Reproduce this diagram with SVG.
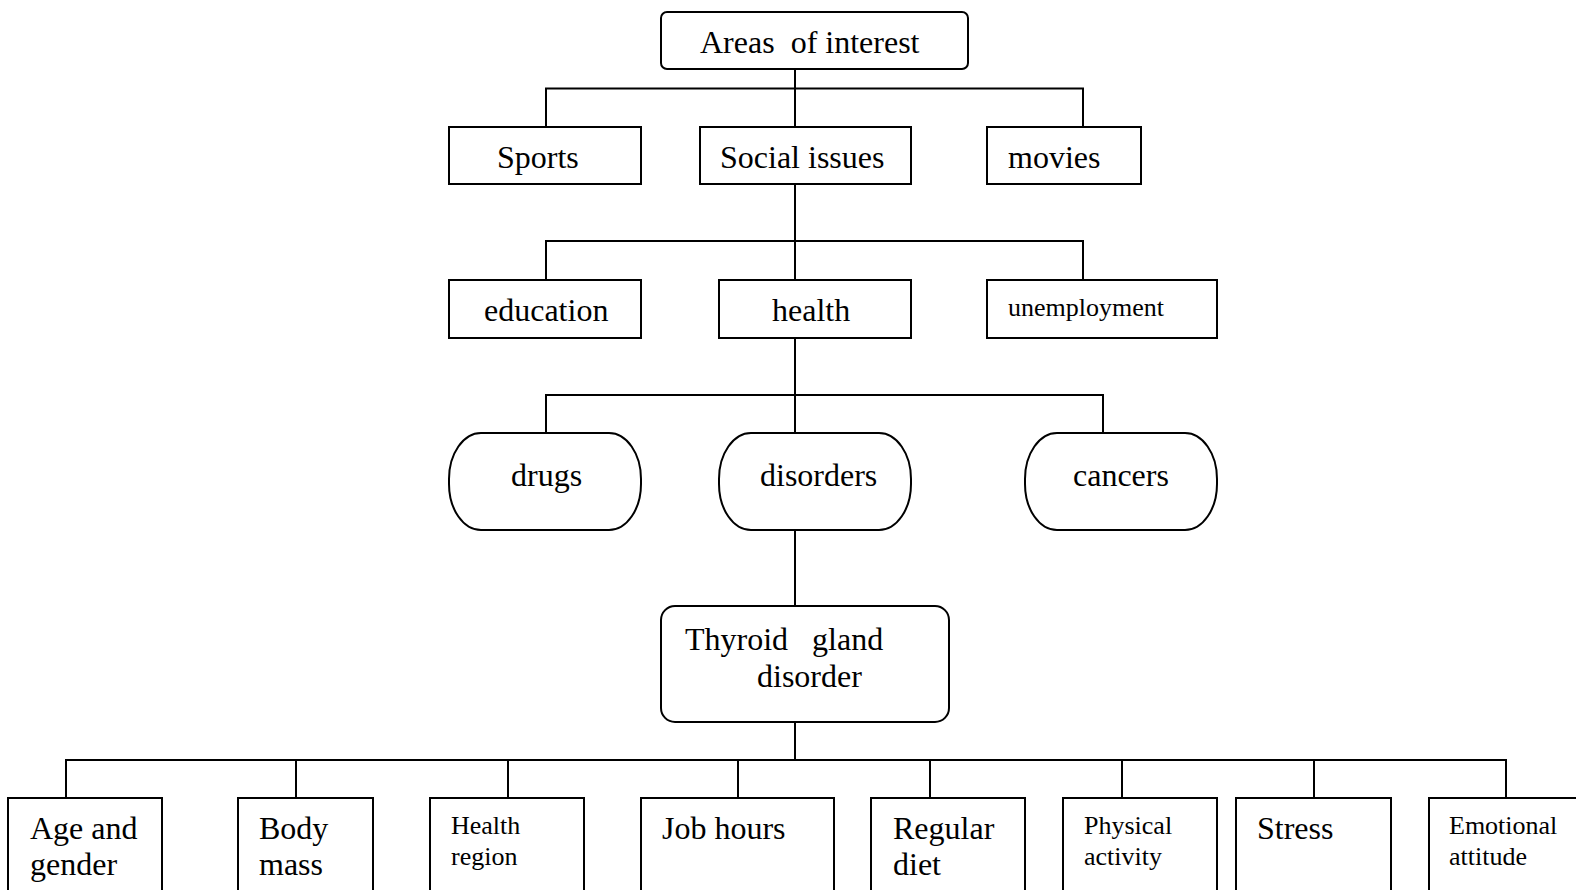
<svg xmlns="http://www.w3.org/2000/svg" width="1576" height="890" viewBox="0 0 1576 890">
<style>
.b{fill:#fff;stroke:#000;stroke-width:2}
.t{font-family:"Liberation Serif","Times New Roman",serif;font-size:32px;fill:#000}
.s{font-family:"Liberation Serif","Times New Roman",serif;font-size:26px;fill:#000}
.c{fill:none;stroke:#000;stroke-width:2}
</style>
<rect width="1576" height="890" fill="#fff"/>
<g id="connectors">
<path class="c" d="M795 69V88.5M546 127V88.5H1083V127M795 88.5V127"/>
<path class="c" d="M795 184V241M546 280V241H1083V280M795 241V280"/>
<path class="c" d="M795 338V395M546 433V395H1103V433M795 395V433"/>
<path class="c" d="M795 530V606"/>
<path class="c" d="M795 722V760M66 798V760H1506V798M296 760V798M508 760V798M738 760V798M930 760V798M1122 760V798M1314 760V798"/>
</g>
<g id="areas"><rect class="b" x="661" y="12" width="307" height="57" rx="6"/><text class="t" x="700" y="53" xml:space="preserve">Areas  of interest</text></g>
<g id="sports"><rect class="b" x="449" y="127" width="192" height="57"/><text class="t" x="497" y="168">Sports</text></g>
<g id="social"><rect class="b" x="700" y="127" width="211" height="57"/><text class="t" x="720" y="168">Social issues</text></g>
<g id="movies"><rect class="b" x="987" y="127" width="154" height="57"/><text class="t" x="1008" y="168">movies</text></g>
<g id="education"><rect class="b" x="449" y="280" width="192" height="58"/><text class="t" x="484" y="321">education</text></g>
<g id="health"><rect class="b" x="719" y="280" width="192" height="58"/><text class="t" x="772" y="321">health</text></g>
<g id="unemployment"><rect class="b" x="987" y="280" width="230" height="58"/><text class="s" x="1008" y="316">unemployment</text></g>
<g id="drugs"><rect class="b" x="449" y="433" width="192" height="97" rx="32" ry="46"/><text class="t" x="511" y="486">drugs</text></g>
<g id="disorders"><rect class="b" x="719" y="433" width="192" height="97" rx="32" ry="46"/><text class="t" x="760" y="486">disorders</text></g>
<g id="cancers"><rect class="b" x="1025" y="433" width="192" height="97" rx="32" ry="46"/><text class="t" x="1073" y="486">cancers</text></g>
<g id="thyroid"><rect class="b" x="661" y="606" width="288" height="116" rx="14"/><text class="t" x="685" y="650" xml:space="preserve">Thyroid   gland</text><text class="t" x="757" y="687">disorder</text></g>
<g id="age"><rect class="b" x="8" y="798" width="154" height="100"/><text class="t" x="30" y="839">Age and</text><text class="t" x="30" y="875">gender</text></g>
<g id="body"><rect class="b" x="238" y="798" width="135" height="100"/><text class="t" x="259" y="839">Body</text><text class="t" x="259" y="875">mass</text></g>
<g id="region"><rect class="b" x="430" y="798" width="154" height="100"/><text class="s" x="451" y="834">Health</text><text class="s" x="451" y="865">region</text></g>
<g id="job"><rect class="b" x="641" y="798" width="193" height="100"/><text class="t" x="662" y="839">Job hours</text></g>
<g id="diet"><rect class="b" x="871" y="798" width="154" height="100"/><text class="t" x="893" y="839">Regular</text><text class="t" x="893" y="875">diet</text></g>
<g id="physical"><rect class="b" x="1063" y="798" width="154" height="100"/><text class="s" x="1084" y="834">Physical</text><text class="s" x="1084" y="865">activity</text></g>
<g id="stress"><rect class="b" x="1236" y="798" width="155" height="100"/><text class="t" x="1257" y="839">Stress</text></g>
<g id="emotional"><rect class="b" x="1429" y="798" width="160" height="100"/><text class="s" x="1449" y="834">Emotional</text><text class="s" x="1449" y="865">attitude</text></g>
</svg>
